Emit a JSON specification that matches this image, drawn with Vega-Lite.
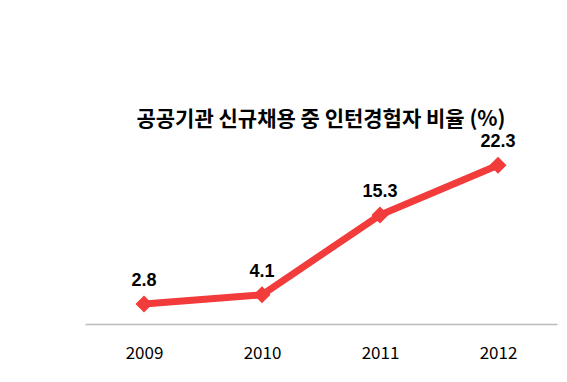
{
  "$schema": "https://vega.github.io/schema/vega-lite/v6.json",
  "width": 472,
  "height": 178,
  "autosize": {"type": "none"},
  "padding": {"left": 85, "top": 146, "right": 10, "bottom": 58},
  "background": "white",
  "title": {
    "text": "공공기관 신규채용 중 인턴경험자 비율 (%)",
    "font": "Noto Sans CJK KR",
    "fontSize": 21,
    "fontWeight": "bold",
    "color": "black",
    "anchor": "middle",
    "offset": 3
  },
  "config": {"view": {"stroke": null}},
  "data": {
    "values": [
      {"year": "2009", "value": 2.8},
      {"year": "2010", "value": 4.1},
      {"year": "2011", "value": 15.3},
      {"year": "2012", "value": 22.3}
    ]
  },
  "encoding": {
    "x": {
      "field": "year",
      "type": "ordinal",
      "scale": {"type": "point", "padding": 0.5},
      "axis": {
        "title": null,
        "labelAngle": 0,
        "ticks": false,
        "domainColor": "#bbbbbb",
        "domainWidth": 1.5,
        "labelFont": "Noto Sans CJK KR",
        "labelFontSize": 17,
        "labelColor": "black",
        "labelPadding": 21,
        "grid": false
      }
    },
    "y": {
      "field": "value",
      "type": "quantitative",
      "scale": {"domain": [0, 25]},
      "axis": null
    }
  },
  "layer": [
    {
      "mark": {"type": "line", "color": "#F23B3B", "strokeWidth": 7}
    },
    {
      "mark": {"type": "point", "shape": "diamond", "filled": true, "color": "#F23B3B", "size": 290, "opacity": 1}
    },
    {
      "mark": {"type": "text", "dy": -23, "font": "Liberation Sans", "fontWeight": "bold", "fontSize": 18, "color": "black"},
      "encoding": {"text": {"field": "value", "type": "quantitative", "format": ".1f"}}
    }
  ]
}
